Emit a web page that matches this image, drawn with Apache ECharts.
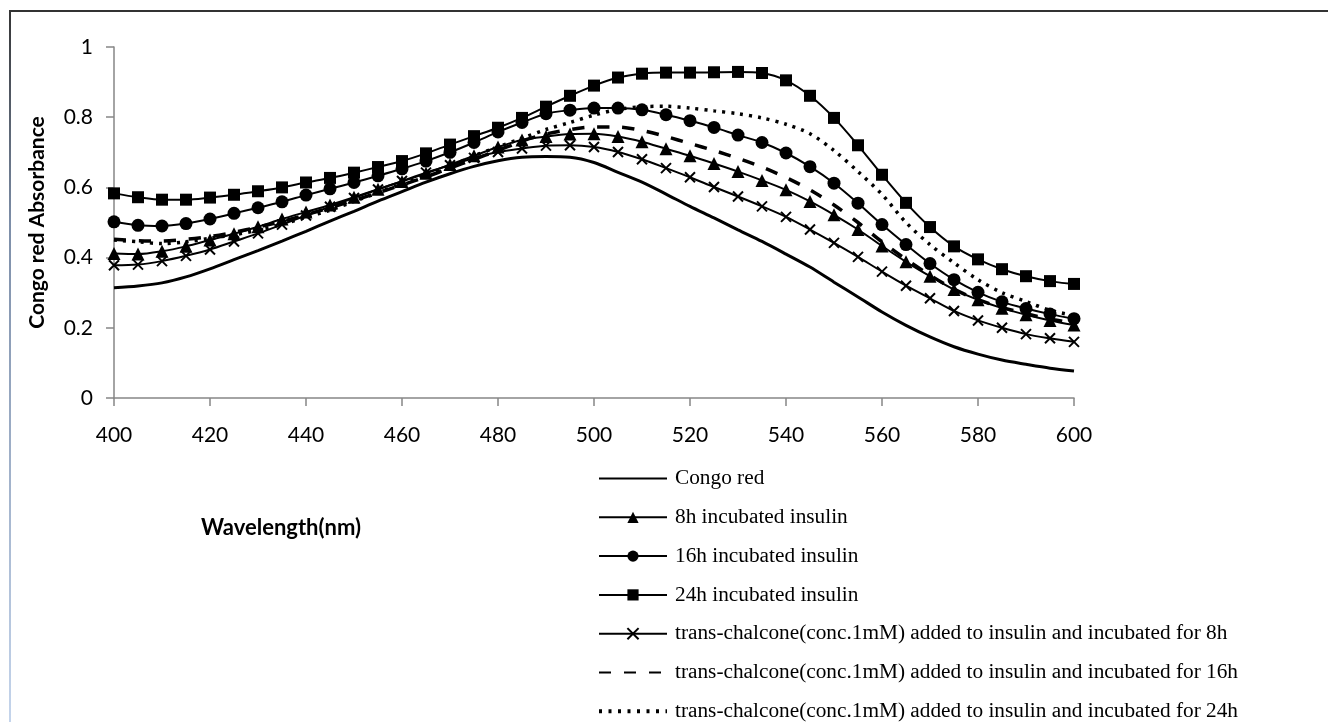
<!DOCTYPE html>
<html>
<head>
<meta charset="utf-8">
<script src="https://cdn.jsdelivr.net/npm/echarts@6/dist/echarts.min.js"></script>
<style>
  html, body { margin: 0; padding: 0; background: #fff; }
  #chart { width: 1328px; height: 722px; }
</style>
</head>
<body>
<div id="chart"></div>
<script>
// x values (nm)
const wavelength = [400, 405, 410, 415, 420, 425, 430, 435, 440, 445, 450, 455, 460, 465, 470, 475, 480, 485, 490, 495,
  500, 505, 510, 515, 520, 525, 530, 535, 540, 545, 550, 555, 560, 565, 570, 575, 580, 585, 590, 595, 600]

const seriesNames = [
  'Congo red',
  '8h incubated insulin',
  '16h incubated insulin',
  '24h incubated insulin',
  'trans-chalcone(conc.1mM) added to insulin and incubated for 8h',
  'trans-chalcone(conc.1mM) added to insulin and incubated for 16h',
  'trans-chalcone(conc.1mM) added to insulin and incubated for 24h'
]

// absorbance
const congoRed = [0.314, 0.319, 0.328, 0.345, 0.368, 0.394, 0.42, 0.447, 0.475, 0.504,
  0.532, 0.561, 0.588, 0.615, 0.639, 0.66, 0.676, 0.686, 0.688, 0.686,
  0.671, 0.643, 0.615, 0.581, 0.546, 0.513, 0.479, 0.446, 0.41, 0.373,
  0.33, 0.288, 0.245, 0.207, 0.174, 0.146, 0.125, 0.108, 0.096, 0.085, 0.077]
const insulin8h = [0.412, 0.41, 0.418, 0.432, 0.45, 0.468, 0.488, 0.51, 0.53, 0.55,
  0.572, 0.595, 0.617, 0.64, 0.665, 0.69, 0.715, 0.735, 0.745, 0.752,
  0.753, 0.745, 0.73, 0.71, 0.69, 0.668, 0.645, 0.62, 0.593, 0.56,
  0.522, 0.48, 0.433, 0.388, 0.347, 0.309, 0.28, 0.256, 0.237, 0.221, 0.208]
const insulin16h = [0.502, 0.492, 0.49, 0.497, 0.51, 0.526, 0.542, 0.559, 0.578, 0.596,
  0.614, 0.633, 0.653, 0.675, 0.7, 0.728, 0.758, 0.785, 0.81, 0.82,
  0.826, 0.826, 0.821, 0.807, 0.79, 0.771, 0.749, 0.728, 0.698, 0.659,
  0.612, 0.555, 0.494, 0.437, 0.383, 0.337, 0.301, 0.274, 0.255, 0.239, 0.226]
const insulin24h = [0.583, 0.572, 0.565, 0.565, 0.571, 0.579, 0.589, 0.6, 0.614, 0.627,
  0.642, 0.658, 0.675, 0.697, 0.722, 0.746, 0.77, 0.798, 0.83, 0.861,
  0.89, 0.913, 0.924, 0.927, 0.927, 0.928, 0.929, 0.926, 0.905, 0.861,
  0.798, 0.72, 0.636, 0.556, 0.487, 0.432, 0.395, 0.367, 0.347, 0.333, 0.325]
const chalcone8h = [0.378, 0.38, 0.39, 0.405, 0.423, 0.446, 0.469, 0.494, 0.52, 0.545,
  0.57, 0.594, 0.618, 0.642, 0.663, 0.684, 0.701, 0.711, 0.719, 0.72,
  0.715, 0.701, 0.68, 0.655, 0.629, 0.601, 0.574, 0.546, 0.516, 0.48,
  0.442, 0.402, 0.36, 0.32, 0.284, 0.248, 0.221, 0.2, 0.182, 0.17, 0.16]
const chalcone16h = [0.452, 0.448, 0.447, 0.452, 0.46, 0.472, 0.487, 0.503, 0.522, 0.542,
  0.563, 0.585, 0.607, 0.63, 0.655, 0.68, 0.705, 0.732, 0.752, 0.765,
  0.772, 0.772, 0.762, 0.745, 0.725, 0.705, 0.683, 0.658, 0.628, 0.593,
  0.55, 0.5, 0.445, 0.395, 0.35, 0.31, 0.28, 0.258, 0.24, 0.225, 0.213]
const chalcone24h = [0.45, 0.445, 0.44, 0.445, 0.455, 0.465, 0.478, 0.495, 0.515, 0.535,
  0.56, 0.585, 0.61, 0.635, 0.66, 0.69, 0.715, 0.74, 0.765, 0.785,
  0.806, 0.822, 0.83, 0.831, 0.826, 0.818, 0.81, 0.798, 0.78, 0.753,
  0.705, 0.645, 0.58, 0.5, 0.437, 0.385, 0.337, 0.3, 0.275, 0.25, 0.235]

const xAxisTicks = { min: 400, max: 600, step: 20 }
const yAxisTicks = { min: 0, max: 1, step: 0.2 }

// series drawn without markers (legend shows only the line)
const noMarker = [seriesNames[0], seriesNames[5], seriesNames[6]]

const dashStyle = { width: 3.5, type: [12, 13] }
const dotStyle = { width: 3.5, type: [3, 6] }

const pairs = (ys) => wavelength.map((x, i) => [x, ys[i]])

const lineSeries = (name, ys, symbol, size, lineStyle, extra) => Object.assign({
  name: name,
  type: 'line',
  data: pairs(ys),
  smooth: 0.3,
  symbol: symbol,
  symbolSize: size,
  showSymbol: symbol !== 'none',
  itemStyle: { color: '#000' },
  lineStyle: Object.assign({ color: '#000', width: 2 }, lineStyle),
  emphasis: { disabled: true },
  animation: false
}, extra || {})

const chart = echarts.init(document.getElementById('chart'))

const option = {
  backgroundColor: '#fff',
  grid: { left: 114, right: 254, top: 47, bottom: 324 },
  xAxis: {
    type: 'value',
    min: xAxisTicks.min,
    max: xAxisTicks.max,
    interval: xAxisTicks.step,
    axisLine: { lineStyle: { color: '#868686', width: 1.5 } },
    axisTick: { show: true, inside: false, length: 8, lineStyle: { color: '#868686', width: 1.5 } },
    axisLabel: { color: '#000', fontFamily: 'Lato', fontSize: 21, margin: 27 },
    splitLine: { show: false }
  },
  yAxis: {
    type: 'value',
    min: yAxisTicks.min,
    max: yAxisTicks.max,
    interval: yAxisTicks.step,
    name: 'Congo red Absorbance',
    nameLocation: 'middle',
    nameGap: 66,
    nameTextStyle: { color: '#000', fontFamily: 'Lato', fontWeight: 'bold', fontSize: 21 },
    axisLine: { show: true, lineStyle: { color: '#868686', width: 1.5 } },
    axisTick: { show: true, inside: false, length: 8, lineStyle: { color: '#868686', width: 1.5 } },
    axisLabel: { color: '#000', fontFamily: 'Lato', fontSize: 21, margin: 21 },
    splitLine: { show: false }
  },
  legend: {
    orient: 'vertical',
    left: 597,
    top: 468,
    padding: 0,
    height: 254,
    itemWidth: 68,
    itemHeight: 14,
    itemGap: 17.8,
    data: seriesNames.map((n) => {
      if (n === seriesNames[6]) return { name: n, itemStyle: { opacity: 0 }, lineStyle: { width: 4, type: [3, 6.5] } }
      if (noMarker.includes(n)) return { name: n, itemStyle: { opacity: 0 } }
      return { name: n }
    }),
    textStyle: { color: '#000', fontFamily: 'Liberation Serif', fontSize: 21.3, lineHeight: 21, padding: [0, 0, 0, 3] },
    selectedMode: false
  },
  graphic: [
    {
      type: 'line',
      shape: { x1: 9, y1: 11, x2: 1328, y2: 11 },
      style: { stroke: '#333', lineWidth: 2 }
    },
    {
      type: 'line',
      shape: { x1: 10, y1: 10, x2: 10, y2: 722 },
      style: {
        lineWidth: 2,
        stroke: new echarts.graphic.LinearGradient(0, 0, 0, 1, [
          { offset: 0, color: '#333' },
          { offset: 0.3, color: '#7d8ea8' },
          { offset: 1, color: '#c5d5ec' }
        ])
      }
    },
    {
      type: 'text',
      x: 281,
      y: 528,
      style: {
        text: 'Wavelength(nm)',
        fill: '#000',
        font: 'bold 22px Lato',
        textAlign: 'center',
        textVerticalAlign: 'middle'
      }
    }
  ],
  series: [
    lineSeries(seriesNames[0], congoRed, 'none', 0, { width: 3 }),
    lineSeries(seriesNames[1], insulin8h, 'triangle', 13, {}),
    lineSeries(seriesNames[2], insulin16h, 'circle', 13, {}),
    lineSeries(seriesNames[3], insulin24h, 'rect', 12, {}),
    lineSeries(seriesNames[4], chalcone8h, 'path://M0,0L10,10M10,0L0,10', 10, {},
      { itemStyle: { color: '#000', borderColor: '#000', borderWidth: 2 } }),
    lineSeries(seriesNames[5], chalcone16h, 'none', 0, dashStyle),
    lineSeries(seriesNames[6], chalcone24h, 'none', 0, dotStyle)
  ]
}

chart.setOption(option)
</script>
</body>
</html>
